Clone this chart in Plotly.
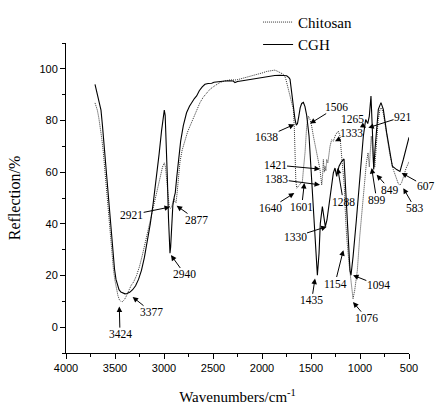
import plotly.graph_objects as go

# FTIR spectra: wavenumber (cm^-1) and reflection (%)
cgh_wn = [3704, 3695, 3685, 3673, 3658, 3643, 3628, 3612, 3597, 3582, 3566, 3551, 3536, 3520, 3505,
          3490, 3475, 3459, 3440, 3418, 3398, 3378, 3350, 3320, 3290, 3260, 3230, 3200, 3170, 3140,
          3110, 3080, 3050, 3025, 3005, 2997, 2988, 2978, 2966, 2954, 2945, 2939, 2932, 2922, 2910,
          2895, 2885, 2870, 2850, 2830, 2803, 2770, 2740, 2718, 2690, 2667, 2640, 2610, 2582, 2550,
          2513, 2490, 2462, 2420, 2380, 2330, 2293, 2276, 2250, 2200, 2156, 2100, 2020, 1960, 1918,
          1870, 1816, 1780, 1748, 1725, 1714, 1697, 1680, 1663, 1650, 1638, 1625, 1610, 1595, 1578,
          1562, 1544, 1520, 1500, 1476, 1452, 1435, 1418, 1405, 1384, 1367, 1354, 1337, 1306, 1272,
          1255, 1238, 1214, 1187, 1163, 1153, 1136, 1119, 1102, 1092, 1071, 1037, 1000, 966, 942,
          930, 921, 905, 888, 874, 860, 847, 830, 813, 786, 762, 728, 694, 670, 626, 592, 558, 524, 500]
cgh_val = [94, 92.5, 91.5, 90, 87, 84, 78, 71, 64, 57, 49, 42, 35, 28, 22.5,
           18.5, 16, 14.5, 13.6, 13.1, 12.9, 13, 13.5, 14.5, 16, 18.5, 22, 27, 33, 40,
           48, 57, 67, 76, 82.5, 84, 82, 73, 58, 42, 32, 28.6, 31, 40, 47,
           50.5, 52, 58, 66, 72, 78, 83, 85.5, 87, 88.5, 89.5, 91.5, 93, 94, 94.3,
           94.4, 94.8, 95, 95.2, 95.3, 95.4, 95.3, 94.7, 95.1, 95.4, 95.7, 96.1, 96.6, 97, 97.3,
           97.4, 97.5, 97.5, 97.3, 96.6, 96, 90.8, 84.3, 80.4, 78.2, 78.8, 81.5, 85, 86.6, 87,
           85.5, 82, 74, 61, 45.4, 28.6, 20.1, 28.6, 40.2, 46.7, 42.8, 38.9, 41.5, 50.6, 59.7,
           61.6, 58.4, 62.3, 64.2, 65.1, 58.4, 45.4, 32.4, 22, 20.1, 27.2, 41.5, 57.1, 73.9, 80.4,
           79.5, 78.8, 81.7, 89.5, 76.5, 61, 68.8, 77, 84.3, 86.9, 84.3, 75.3, 67.5, 62.3, 61, 60.3, 64.9, 70, 73.5]

chitosan_wn = [3704, 3692, 3680, 3665, 3650, 3635, 3620, 3605, 3590, 3575, 3560, 3545, 3530, 3515, 3500,
               3485, 3470, 3455, 3440, 3424, 3405, 3390, 3377, 3355, 3335, 3310, 3280, 3250, 3220, 3190,
               3160, 3130, 3100, 3070, 3040, 3015, 2997, 2985, 2972, 2960, 2948, 2936, 2921, 2908, 2898,
               2888, 2877, 2866, 2850, 2837, 2815, 2790, 2760, 2735, 2700, 2670, 2633, 2600, 2570, 2531,
               2480, 2429, 2380, 2327, 2259, 2200, 2150, 2088, 2030, 1990, 1952, 1910, 1870, 1850, 1815,
               1782, 1760, 1748, 1730, 1714, 1697, 1680, 1670, 1663, 1655, 1646, 1630, 1612, 1600, 1588,
               1575, 1561, 1544, 1527, 1510, 1493, 1476, 1458, 1442, 1425, 1408, 1391, 1383, 1374, 1365,
               1357, 1348, 1340, 1328, 1306, 1289, 1272, 1248, 1221, 1204, 1187, 1175, 1160, 1146, 1136,
               1112, 1084, 1071, 1054, 1027, 1003, 969, 935, 918, 905, 895, 885, 875, 862, 849,
               835, 815, 795, 780, 762, 728, 694, 660, 630, 609, 592, 575, 558, 530, 500]
chitosan_val = [86.8, 85.5, 84, 81, 77.5, 73, 68, 61, 54, 47, 40, 33.5, 27.5, 22, 18,
                14.5, 12.2, 10.6, 10, 9.9, 10.6, 11.6, 12.5, 14.5, 16.2, 17.5, 20, 23.5, 28, 33,
                38.5, 44, 49, 54, 58.5, 62, 63.6, 62, 57, 51, 47, 46, 46.5, 48.8, 49.8,
                48.5, 48.2, 52, 58, 64, 68.5, 72, 75.5, 77.8, 81, 84, 86.9, 89, 90.5, 92.1,
                93.5, 94.7, 95.3, 95.7, 95.7, 96.3, 96.6, 97.3, 98, 98.5, 99, 99.4, 99.5, 99.2, 98.6,
                97.9, 96.5, 94.7, 92, 89.5, 87, 84.3, 77, 65, 57, 53.8, 54.5, 55.1, 55.8, 56.4,
                62, 67.5, 77.8, 81.7, 80.4, 77.8, 74, 70.5, 67.5, 63.6, 61, 55.1, 58, 64.9, 60,
                62.3, 60.5, 64.9, 63.6, 70, 72.6, 72, 74.6, 75.9, 73.9, 66.1, 62, 54.5, 41.5, 35,
                24.7, 15.6, 11, 14.3, 22, 35, 50.6, 63.6, 67.5, 62, 68, 74, 70, 63, 62,
                70, 80, 84.5, 84.8, 82.8, 74.5, 66.5, 61, 57.5, 55.5, 55, 56, 58, 61.5, 64]

# Peak labels: text, arrow tip (wn, %), label position (wn, %)
peak_labels = ["3424", "3377", "2921", "2877", "2940", "1638", "1506", "1265", "921", "1333",
               "1421", "1383", "1640", "1601", "1288", "1330", "899", "849", "607", "583",
               "1435", "1154", "1094", "1076"]
tip_wn = [3456, 3320, 2939, 2871, 2929, 1670, 1510, 938, 915, 1255,
          1408, 1408, 1670, 1568, 1228, 1340, 881, 830, 575, 558,
          1459, 1170, 1071, 1071]
tip_val = [8, 11.7, 46.5, 47, 27.9, 78.5, 78.8, 77.2, 77.2, 72,
           61.2, 55.1, 51.9, 55.8, 61.6, 38.9, 61.6, 59, 59.7, 53.8,
           18.8, 29.8, 20.1, 9.7]
text_wn = [3449, 3126, 3330, 2667, 2786, 1952, 1238, 1075, 561, 1085,
           1867, 1850, 1918, 1595, 1170, 1663, 830, 694, 330, 439,
           1493, 1255, 813, 932]
text_val = [-2.7, 5.8, 43.5, 41.5, 20.4, 73.7, 85.2, 80.4, 81.5, 75,
            62.8, 57.3, 46, 46.7, 48.6, 35, 49.3, 53.2, 54.5, 46,
            10.4, 16.9, 16.2, 3.5]

serif = "Liberation Serif, Times New Roman, serif"
sans = "Liberation Sans, Arial, sans-serif"

fig = go.Figure()
fig.add_trace(go.Scatter(x=chitosan_wn, y=chitosan_val, mode="lines", name="Chitosan",
                         line=dict(color="#333", width=1, dash="1px,1px")))
fig.add_trace(go.Scatter(x=cgh_wn, y=cgh_val, mode="lines", name="CGH",
                         line=dict(color="black", width=1.1)))

for lab, xw, yv, tw, tv in zip(peak_labels, tip_wn, tip_val, text_wn, text_val):
    fig.add_annotation(x=xw, y=yv, ax=tw, ay=tv, axref="x", ayref="y", text=lab,
                       showarrow=True, arrowhead=2, arrowsize=1.1, arrowwidth=1,
                       arrowcolor="black", standoff=0, borderpad=0,
                       font=dict(family=serif, size=11.5, color="black"))

fig.update_layout(
    width=435, height=405,
    margin=dict(l=66, r=26, t=43, b=52, autoexpand=False),
    paper_bgcolor="white", plot_bgcolor="white",
    showlegend=True,
    legend=dict(x=0.56, y=1.12, xanchor="left", yanchor="top",
                font=dict(family=serif, size=15, color="black"),
                bgcolor="rgba(0,0,0,0)", tracegroupgap=0),
    xaxis=dict(range=[4000, 500], dtick=500, tick0=500, showline=True, linecolor="black",
               linewidth=1, ticks="outside", ticklen=5, tickcolor="black",
               minor=dict(dtick=250, ticks="outside", ticklen=3, tickcolor="black"),
               showgrid=False, zeroline=False,
               tickfont=dict(family=sans, size=11, color="black"),
               title=dict(text="Wavenumbers/cm<sup>-1</sup>",
                          font=dict(family=serif, size=15, color="black"), standoff=18)),
    yaxis=dict(range=[-10, 110], tickvals=[0, 20, 40, 60, 80, 100], showline=True,
               linecolor="black", linewidth=1, ticks="outside", ticklen=5, tickcolor="black",
               minor=dict(tickvals=[-10, 10, 30, 50, 70, 90, 110], ticks="outside", ticklen=3,
                          tickcolor="black"),
               showgrid=False, zeroline=False,
               tickfont=dict(family=sans, size=11, color="black"),
               title=dict(text="Reflection/%", font=dict(family=serif, size=16, color="black"),
                          standoff=14)),
)

fig.write_html("out.html")
